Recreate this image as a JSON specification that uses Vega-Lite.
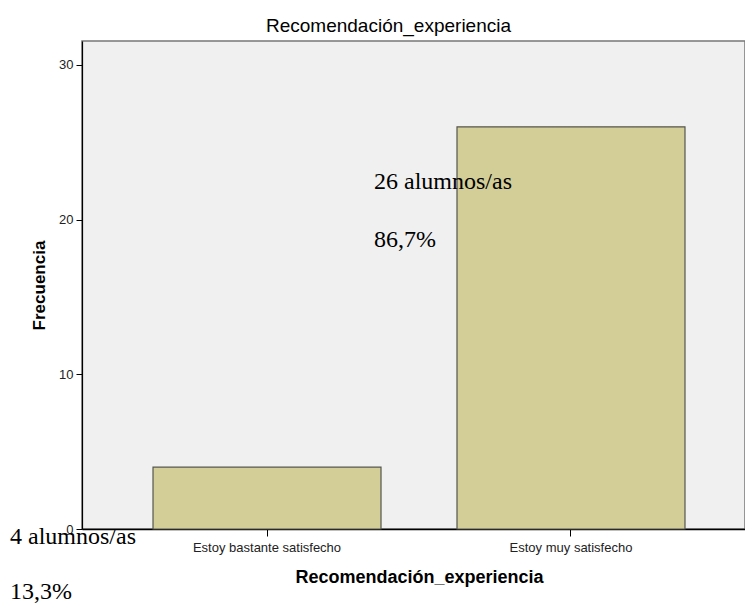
{
  "$schema": "https://vega.github.io/schema/vega-lite/v6.json",
  "autosize": "none",
  "width": 663,
  "height": 488,
  "padding": {"left": 82, "top": 41, "right": 0, "bottom": 75},
  "background": "white",
  "config": {
    "font": "Liberation Sans",
    "view": {"fill": "#f0f0f0", "stroke": "#777777", "strokeWidth": 1.5}
  },
  "title": {
    "text": "Recomendación_experiencia",
    "fontSize": 19,
    "fontWeight": "normal",
    "color": "#000000",
    "anchor": "middle",
    "baseline": "alphabetic",
    "offset": 9,
    "dx": -25,
    "dy": 19
  },
  "data": {
    "values": [
      {"respuesta": "Estoy bastante satisfecho", "frecuencia": 4, "alumnos": "4 alumnos/as", "porcentaje": "13,3%"},
      {"respuesta": "Estoy muy satisfecho", "frecuencia": 26, "alumnos": "26 alumnos/as", "porcentaje": "86,7%"}
    ]
  },
  "encoding": {
    "x": {
      "field": "respuesta",
      "type": "nominal",
      "sort": null,
      "scale": {"paddingInner": 0.25, "paddingOuter": 0.2155, "align": 0.542},
      "axis": {
        "title": "Recomendación_experiencia",
        "titleFont": "Liberation Sans",
        "titleFontSize": 18,
        "titleFontWeight": "bold",
        "titleColor": "#000000",
        "titleBaseline": "alphabetic",
        "titleX": 337,
        "titleY": 53,
        "labelAngle": 0,
        "labelFontSize": 13,
        "labelColor": "#222222",
        "labelBaseline": "alphabetic",
        "labelPadding": 15,
        "tickSize": 7,
        "tickColor": "#000000",
        "domainColor": "#000000",
        "domainWidth": 1.5,
        "grid": false
      }
    },
    "y": {
      "field": "frecuencia",
      "type": "quantitative",
      "scale": {"domain": [0, 31.55], "nice": false, "zero": true},
      "axis": {
        "title": "Frecuencia",
        "titleFontSize": 17,
        "titleFontWeight": "bold",
        "titleColor": "#000000",
        "titleBaseline": "alphabetic",
        "titleX": -38,
        "values": [0, 10, 20, 30],
        "labelFontSize": 13,
        "labelColor": "#222222",
        "labelPadding": 3,
        "tickSize": 6,
        "tickColor": "#000000",
        "domainColor": "#000000",
        "domainWidth": 1.2,
        "grid": false
      }
    }
  },
  "layer": [
    {
      "mark": {"type": "bar", "fill": "#d3ce97", "stroke": "#55554f", "strokeWidth": 1.2}
    },
    {
      "transform": [{"filter": "datum.frecuencia == 26"}],
      "mark": {"type": "text", "font": "Liberation Serif", "fontSize": 24, "color": "#000000", "align": "left", "baseline": "alphabetic", "dx": -197, "dy": 62},
      "encoding": {"text": {"field": "alumnos"}}
    },
    {
      "transform": [{"filter": "datum.frecuencia == 26"}],
      "mark": {"type": "text", "font": "Liberation Serif", "fontSize": 24, "color": "#000000", "align": "left", "baseline": "alphabetic", "dx": -197, "dy": 120},
      "encoding": {"text": {"field": "porcentaje"}}
    },
    {
      "transform": [{"filter": "datum.frecuencia == 4"}],
      "mark": {"type": "text", "font": "Liberation Serif", "fontSize": 24, "color": "#000000", "align": "left", "baseline": "alphabetic", "dx": -257, "dy": 77},
      "encoding": {"text": {"field": "alumnos"}}
    },
    {
      "transform": [{"filter": "datum.frecuencia == 4"}],
      "mark": {"type": "text", "font": "Liberation Serif", "fontSize": 24, "color": "#000000", "align": "left", "baseline": "alphabetic", "dx": -257, "dy": 132},
      "encoding": {"text": {"field": "porcentaje"}}
    }
  ]
}
